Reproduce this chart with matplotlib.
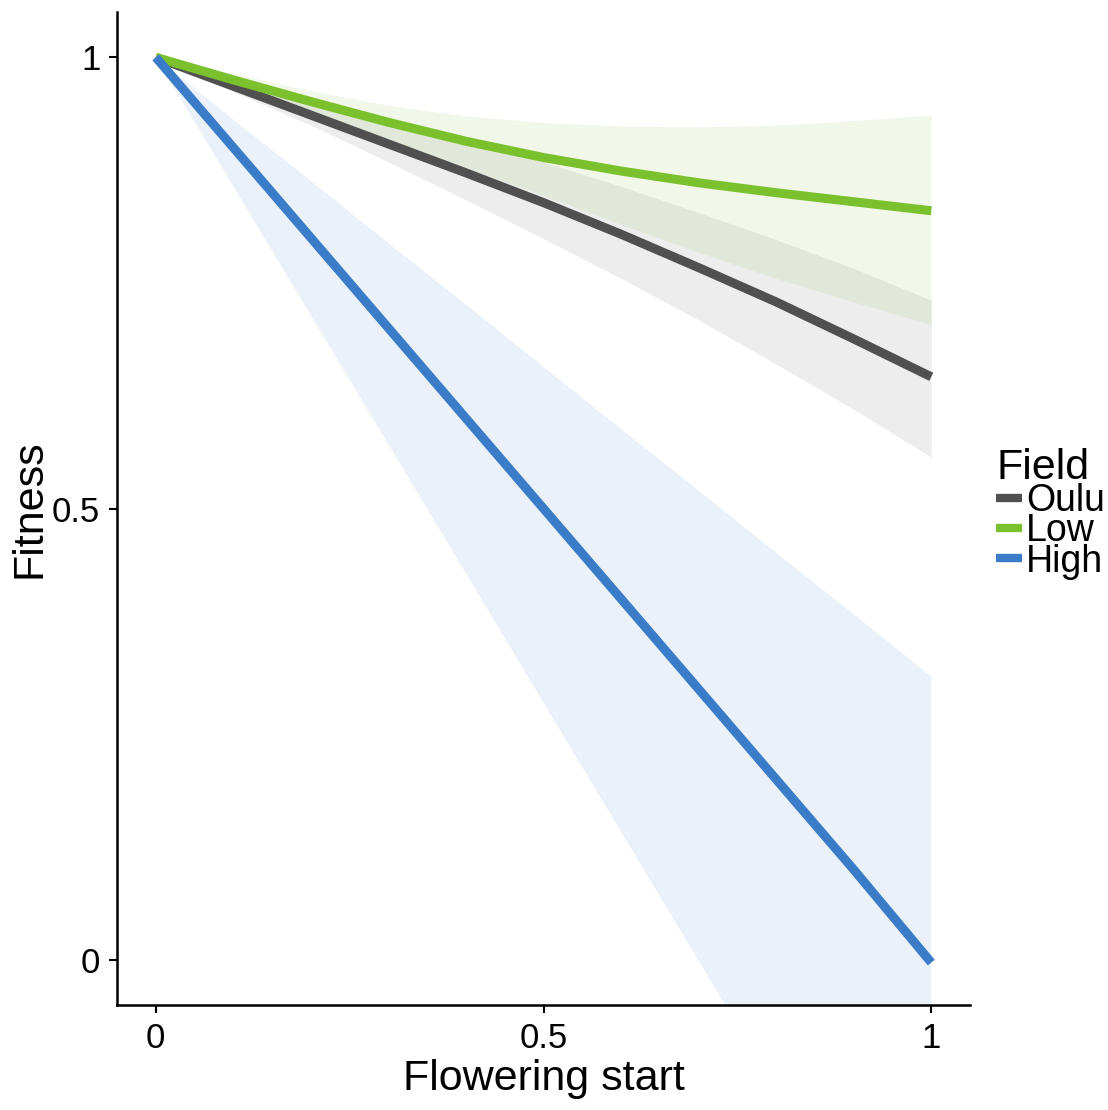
import numpy as np
import matplotlib.pyplot as plt
from matplotlib.lines import Line2D

plt.rcParams['font.family'] = ['Liberation Sans', 'DejaVu Sans']

# Flowering start grid and fitted curves with confidence bands
flowering = [0.0, 0.1, 0.2, 0.3, 0.4, 0.5, 0.6, 0.7, 0.8, 0.9, 1.0]

fields = ['Oulu', 'Low', 'High']
colors = ['#505050', '#7bc12e', '#3b7cc8']

oulu_fit = [1.0, 0.968, 0.936, 0.904, 0.872, 0.839, 0.804, 0.767, 0.729, 0.688, 0.646]
oulu_lo = [1.0, 0.962, 0.925, 0.884, 0.842, 0.799, 0.755, 0.709, 0.660, 0.610, 0.557]
oulu_hi = [1.0, 0.977, 0.955, 0.932, 0.909, 0.884, 0.857, 0.828, 0.798, 0.766, 0.731]

low_fit = [1.0, 0.975, 0.951, 0.928, 0.907, 0.889, 0.874, 0.861, 0.850, 0.840, 0.830]
low_lo = [1.0, 0.968, 0.935, 0.907, 0.878, 0.847, 0.815, 0.784, 0.755, 0.729, 0.704]
low_hi = [1.0, 0.982, 0.963, 0.947, 0.935, 0.928, 0.924, 0.923, 0.925, 0.930, 0.936]

high_fit = [1.0, 0.900, 0.800, 0.700, 0.600, 0.500, 0.400, 0.300, 0.200, 0.100, -0.003]
high_lo = [1.0, 0.857, 0.714, 0.571, 0.428, 0.285, 0.142, -0.001, -0.144, -0.287, -0.430]
high_hi = [1.0, 0.931, 0.863, 0.794, 0.726, 0.657, 0.588, 0.520, 0.451, 0.383, 0.314]

fits = [oulu_fit, low_fit, high_fit]
lows = [oulu_lo, low_lo, high_lo]
highs = [oulu_hi, low_hi, high_hi]

xticks = [0, 0.5, 1]
xticklabels = ['0', '0.5', '1']
yticks = [0, 0.5, 1]
yticklabels = ['0', '0.5', '1']

fig = plt.figure(figsize=(11.08, 11.10), dpi=100)
ax = fig.add_axes([0.1056, 0.0946, 0.7699, 0.8944])

for fit, lo, hi, c in zip(fits, lows, highs, colors):
    ax.fill_between(flowering, lo, hi, color=c, alpha=0.1, linewidth=0)
for fit, c in zip(fits, colors):
    ax.plot(flowering, fit, color=c, lw=6.5, solid_capstyle='butt',
            solid_joinstyle='round')

ax.set_xlim(-0.05, 1.05)
ax.set_ylim(-0.05, 1.05)
ax.set_xticks(xticks)
ax.set_xticklabels(xticklabels)
ax.set_yticks(yticks)
ax.set_yticklabels(yticklabels)
ax.tick_params(labelsize=25, length=6, width=1.5, pad=6, colors='black')
ax.spines['top'].set_visible(False)
ax.spines['right'].set_visible(False)
for s in ['left', 'bottom']:
    ax.spines[s].set_linewidth(1.8)
ax.set_xlabel('Flowering start', fontsize=31, labelpad=3)
ax.set_ylabel('Fitness', fontsize=31, labelpad=2)

handles = [Line2D([], [], color=c, lw=6, solid_capstyle='butt') for c in colors]
leg = ax.legend(handles, fields, loc='center left',
                bbox_to_anchor=(996 / 1108, (1110 - 514) / 1110),
                bbox_transform=fig.transFigure, frameon=False,
                fontsize=27, handlelength=0.7, handletextpad=0.1,
                labelspacing=-0.15, borderpad=0, borderaxespad=0)
leg.set_title('Field', prop={'size': 31, 'family': ['Liberation Sans Narrow', 'Liberation Sans']})
leg._legend_box.align = 'left'

fig.savefig('out.png', dpi=100)
